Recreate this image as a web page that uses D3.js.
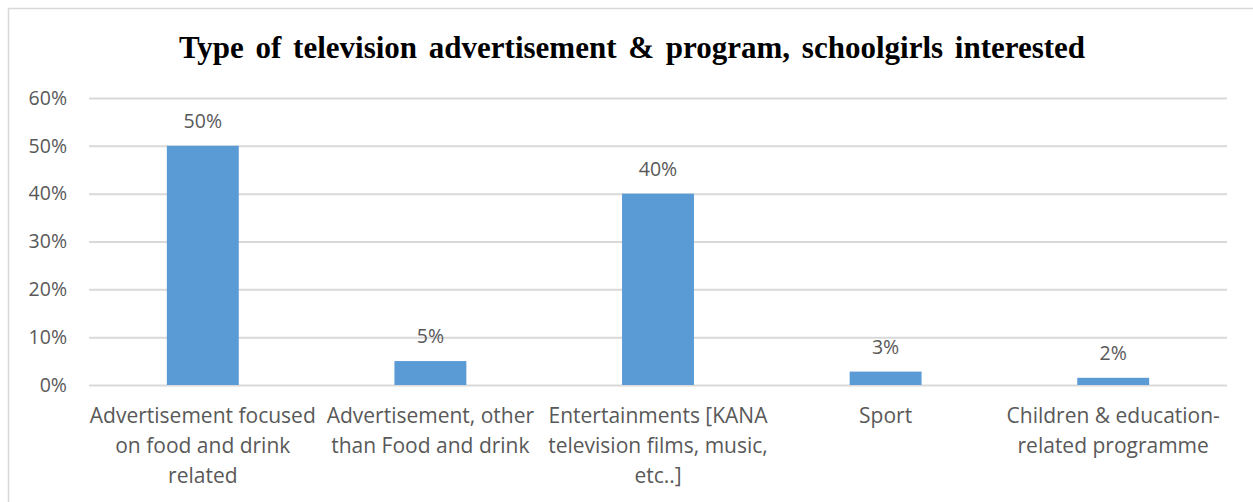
<!DOCTYPE html>
<html>
<head>
<meta charset="utf-8">
<script src="https://cdn.jsdelivr.net/npm/d3@7"></script>
<style>
  body { margin: 0; background: #fff; }
  text { font-family: "Open Sans", sans-serif; fill: #595959; }
</style>
</head>
<body>
<div id="chart"></div>
<script>
const categories = [
  ["Advertisement focused", "on food and drink", "related"],
  ["Advertisement, other", "than Food and drink"],
  ["Entertainments [KANA", "television films, music,", "etc..]"],
  ["Sport"],
  ["Children & education-", "related programme"]
];
const values = [0.50, 0.05, 0.40, 0.028, 0.015];
const valueLabels = ["50%", "5%", "40%", "3%", "2%"];
const yTicks = [0, 0.1, 0.2, 0.3, 0.4, 0.5, 0.6];
const title = "Type of television advertisement & program, schoolgirls interested";

const W = 1253, H = 502;
const margin = { top: 98, right: 26, bottom: 117, left: 89 };
const width = W - margin.left - margin.right,
      height = H - margin.top - margin.bottom;

const svg = d3.select("#chart").append("svg")
    .attr("width", W)
    .attr("height", H);

// chart border
svg.append("rect")
    .attr("x", 8.5).attr("y", 8.5)
    .attr("width", W + 20).attr("height", H + 20)
    .attr("fill", "none")
    .attr("stroke", "#d9d9d9")
    .attr("stroke-width", 1.5);

svg.append("text")
    .attr("x", 632)
    .attr("y", 58)
    .attr("text-anchor", "middle")
    .style("font-family", "'Liberation Serif', 'Times New Roman', serif")
    .style("font-weight", "bold")
    .style("font-size", "31px")
    .style("fill", "#000")
    .style("word-spacing", "4px")
    .text(title);

const g = svg.append("g")
    .attr("transform", `translate(${margin.left},${margin.top})`);

const x = d3.scaleBand()
    .domain(d3.range(categories.length))
    .range([0, width])
    .padding(0);

const y = d3.scaleLinear()
    .domain([0, 0.6])
    .range([height, 0]);

// gridlines + y labels
const yAxis = g.append("g")
    .call(d3.axisLeft(y)
        .tickValues(yTicks)
        .tickFormat(d3.format(".0%"))
        .tickSize(-width)
        .tickPadding(22));
yAxis.select(".domain").remove();
yAxis.selectAll(".tick line")
    .attr("stroke", "#d9d9d9")
    .attr("stroke-width", 2);
yAxis.selectAll(".tick text")
    .style("font-size", "19.5px")
    .style("fill", "#595959");

const barW = x.bandwidth() * 0.316;

g.selectAll("rect.bar")
    .data(values)
    .enter()
    .append("rect")
    .attr("class", "bar")
    .attr("x", (d, i) => x(i) + (x.bandwidth() - barW) / 2)
    .attr("y", d => y(d))
    .attr("width", barW)
    .attr("height", d => height - y(d))
    .attr("fill", "#5b9bd5");

g.selectAll("text.val")
    .data(values)
    .enter()
    .append("text")
    .attr("class", "val")
    .attr("x", (d, i) => x(i) + x.bandwidth() / 2)
    .attr("y", d => y(d) - 18)
    .attr("text-anchor", "middle")
    .style("font-size", "19.5px")
    .text((d, i) => valueLabels[i]);

// category labels
const cat = g.selectAll("text.cat")
    .data(categories)
    .enter()
    .append("text")
    .attr("class", "cat")
    .attr("x", (d, i) => x(i) + x.bandwidth() / 2)
    .attr("y", height + 38)
    .attr("text-anchor", "middle")
    .style("font-size", "21px");
cat.selectAll("tspan")
    .data(d => d)
    .enter()
    .append("tspan")
    .attr("x", function() { return this.parentNode.getAttribute("x"); })
    .attr("dy", (d, i) => i === 0 ? 0 : 30)
    .text(d => d);
</script>
</body>
</html>
